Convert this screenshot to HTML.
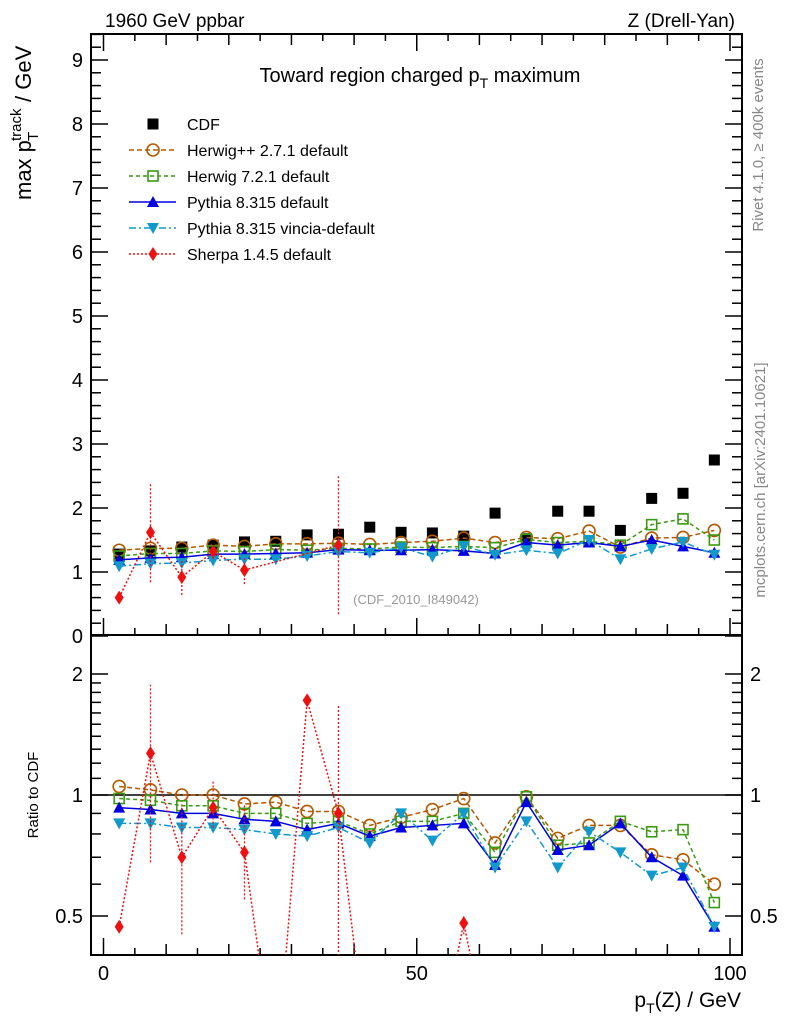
<!DOCTYPE html>
<html><head><meta charset="utf-8"><style>
html,body{margin:0;background:#fff;overflow:hidden;width:786px;height:1024px}
svg{display:block;font-family:"Liberation Sans",sans-serif}
</style></head><body>
<svg id="c" width="786" height="1024" viewBox="0 0 786 1024">
<text x="105" y="27" font-size="19">1960 GeV ppbar</text>
<text x="735" y="27" font-size="19" text-anchor="end">Z (Drell-Yan)</text>
<text x="420" y="82" font-size="20" text-anchor="middle">Toward region charged p<tspan font-size="14" dy="6">T</tspan><tspan dy="-6"> maximum</tspan></text>
<g transform="translate(31,200) rotate(-90)">
<text x="0" y="0" font-size="22">max p</text>
<text x="59" y="-10" font-size="15">track</text>
<text x="59" y="7" font-size="15">T</text>
<text x="98" y="0" font-size="22">/ GeV</text>
</g>
<text transform="translate(38,795) rotate(-90)" font-size="15" text-anchor="middle">Ratio to CDF</text>
<text x="741" y="1007" font-size="21" text-anchor="end">p<tspan font-size="14" dy="6">T</tspan><tspan dy="-6">(Z) / GeV</tspan></text>
<text transform="translate(763,145) rotate(-90)" font-size="15" fill="#888" text-anchor="middle">Rivet 4.1.0, ≥ 400k events</text>
<text transform="translate(765,480) rotate(-90)" font-size="15" fill="#888" text-anchor="middle">mcplots.cern.ch [arXiv:2401.10621]</text>
<text x="416" y="604" font-size="13" fill="#999" text-anchor="middle">(CDF_2010_I849042)</text>
<g id="plot"></g>
</svg>
<script>
const xs=[2.5,7.5,12.5,17.5,22.5,27.5,32.5,37.5,42.5,47.5,52.5,57.5,62.5,67.5,72.5,77.5,82.5,87.5,92.5,97.5];
const cdf=[1.28,1.33,1.39,1.42,1.47,1.48,1.58,1.59,1.70,1.62,1.61,1.56,1.92,1.52,1.95,1.95,1.65,2.15,2.23,2.75];
const herwigpp=[1.34,1.37,1.37,1.42,1.40,1.44,1.44,1.45,1.43,1.46,1.48,1.53,1.46,1.54,1.52,1.64,1.39,1.53,1.54,1.65];
const herwig7=[1.25,1.29,1.29,1.33,1.32,1.35,1.34,1.37,1.36,1.39,1.38,1.40,1.38,1.51,1.46,1.48,1.42,1.74,1.83,1.50];
const pythia=[1.19,1.22,1.23,1.28,1.28,1.29,1.30,1.35,1.34,1.34,1.35,1.33,1.29,1.46,1.42,1.46,1.40,1.50,1.40,1.30];
const vincia=[1.09,1.13,1.14,1.18,1.20,1.20,1.25,1.32,1.30,1.38,1.24,1.40,1.27,1.34,1.29,1.50,1.20,1.36,1.47,1.27];
const sherpaX=[2.5,7.5,12.5,17.5,22.5,37.5];
const sherpa=[0.60,1.62,0.92,1.32,1.03,1.42];
const sherpaErr=[0.05,0.78,0.28,0.12,0.22,1.08];
const rHerwigpp=[1.05,1.03,1.00,1.00,0.95,0.96,0.91,0.91,0.84,0.88,0.92,0.98,0.76,0.99,0.78,0.84,0.84,0.71,0.69,0.60];
const rHerwig7=[0.98,0.97,0.94,0.94,0.90,0.90,0.85,0.86,0.80,0.86,0.86,0.90,0.72,0.99,0.75,0.76,0.86,0.81,0.82,0.54];
const rPythia=[0.93,0.92,0.90,0.90,0.87,0.86,0.82,0.85,0.79,0.83,0.84,0.85,0.67,0.96,0.73,0.75,0.85,0.70,0.63,0.47];
const rVincia=[0.85,0.85,0.83,0.83,0.82,0.80,0.79,0.83,0.76,0.90,0.77,0.90,0.66,0.86,0.66,0.81,0.72,0.63,0.66,0.47];
const rSherpaX=[2.5,7.5,12.5,17.5,22.5,27.5,32.5,37.5,42.5,47.5,52.5,57.5,62.5];
const rSherpa=[0.47,1.27,0.70,0.93,0.72,0.2,1.72,0.90,0.2,0.2,0.2,0.48,0.2];
const rSherpaLo=[0.46,0.68,0.45,0.83,0.55,0.2,1.72,0.2,0.2,0.2,0.2,0.45,0.2];
const rSherpaHi=[0.48,1.88,0.95,1.08,0.95,0.2,1.72,1.67,0.2,0.2,0.2,0.5,0.2];
const yTicks=[0,1,2,3,4,5,6,7,8,9];
const xTickLabels=[0,50,100];
const rTicks=[0.5,1,2];

const L=91,R=742,T=34,M=635,B=955;
const X=v=>103.5+v*6.265;
const Y=v=>636-v*64;
const RY=v=>795-121*Math.log2(v);
const NS='http://www.w3.org/2000/svg';
const g=document.getElementById('plot');
function el(t,a,p){const e=document.createElementNS(NS,t);for(const k in a)e.setAttribute(k,a[k]);(p||g).appendChild(e);return e;}
const clipU=el('clipPath',{id:'cu'});el('rect',{x:L,y:T,width:R-L,height:M-T},clipU);
const clipL=el('clipPath',{id:'cl'});el('rect',{x:L,y:M,width:R-L,height:B-M},clipL);

const fr=el('rect',{x:L,y:T,width:R-L,height:B-T,fill:'none',stroke:'#000','stroke-width':2});

const mid=el('line',{x1:L,x2:R,y1:M,y2:M,stroke:'#000','stroke-width':2});

for(let v=0;v<=9.4;v+=0.2){const y=Y(v);if(y<T)continue;const maj=Math.abs(v-Math.round(v))<0.01;const w=maj?17:10;
 el('line',{x1:L,x2:L+w,y1:y,y2:y,stroke:'#000','stroke-width':1.5});el('line',{x1:R,x2:R-w,y1:y,y2:y,stroke:'#000','stroke-width':1.5});}
yTicks.forEach(v=>{const t=el('text',{x:L-8,y:Y(v)+7,'font-size':20,'text-anchor':'end'});t.textContent=v;
});
for(let v=0;v<=100;v+=5){const x=X(v);const w=v%50==0?17:(v%10==0?11:7);
 [M,B].forEach(b=>el('line',{x1:x,x2:x,y1:b,y2:b-w,stroke:'#000','stroke-width':1.5}));
 el('line',{x1:x,x2:x,y1:T,y2:T+w,stroke:'#000','stroke-width':1.5});}
xTickLabels.forEach(v=>{const t=el('text',{x:X(v),y:980,'font-size':20,'text-anchor':'middle'});t.textContent=v;
});
[0.4,0.5,0.6,0.7,0.8,0.9,1,1.1,1.2,1.3,1.4,1.5,1.6,1.7,1.8,1.9,2].forEach(v=>{const y=RY(v);if(y>B||y<M)return;const maj=rTicks.includes(v);const w=maj?17:10;
 el('line',{x1:L,x2:L+w,y1:y,y2:y,stroke:'#000','stroke-width':1.5});el('line',{x1:R,x2:R-w,y1:y,y2:y,stroke:'#000','stroke-width':1.5});});
rTicks.forEach(v=>{[[L-8,'end'],[R+8,'start']].forEach(([x,a])=>{const t=el('text',{x:x,y:RY(v)+7,'font-size':20,'text-anchor':a});t.textContent=v;
});});
const one=el('line',{x1:L,x2:R,y1:RY(1),y2:RY(1),stroke:'#000','stroke-width':1.5});


function marker(p,type,x,y,col){
 if(type=='sq')el('rect',{x:x-5.5,y:y-5.5,width:11,height:11,fill:col},p);
 if(type=='osq')el('rect',{x:x-5,y:y-5,width:10,height:10,fill:'none',stroke:col,'stroke-width':1.6},p);
 if(type=='oc')el('circle',{cx:x,cy:y,r:6,fill:'none',stroke:col,'stroke-width':1.6},p);
 if(type=='tu')el('path',{d:`M${x-6},${y+5}L${x+6},${y+5}L${x},${y-6}Z`,fill:col},p);
 if(type=='td')el('path',{d:`M${x-6},${y-5}L${x+6},${y-5}L${x},${y+6}Z`,fill:col},p);
 if(type=='di')el('path',{d:`M${x},${y-7}L${x+4.5},${y}L${x},${y+7}L${x-4.5},${y}Z`,fill:col},p);
}
function series(name,xv,vals,fy,type,col,dash,clip){
 const p=el('g',{'clip-path':`url(#${clip})`});
 
 if(dash!==null){const pts=xv.map((x,i)=>X(x)+','+fy(vals[i])).join(' ');
  el('polyline',{points:pts,fill:'none',stroke:col,'stroke-width':1.5,'stroke-dasharray':dash},p);}
 xv.forEach((x,i)=>marker(p,type,X(x),fy(vals[i]),col));
 return p;
}
const BR='#b35900',GR='#3a9a14',BL='#0000e0',CY='#1199cc',RD='#ee1111';
series('cdf-data',xs,cdf,Y,'sq','#000',null,'cu');
series('herwigpp-series',xs,herwigpp,Y,'oc',BR,'5,3','cu');
series('herwig7-series',xs,herwig7,Y,'osq',GR,'4,3','cu');
series('pythia-series',xs,pythia,Y,'tu',BL,'','cu');
series('vincia-series',xs,vincia,Y,'td',CY,'7,3,2,3','cu');
const sp=series('sherpa-series',sherpaX,sherpa,Y,'di',RD,'2,2','cu');
sherpaX.forEach((x,i)=>el('line',{x1:X(x),x2:X(x),y1:Y(sherpa[i]-sherpaErr[i]),y2:Y(sherpa[i]+sherpaErr[i]),stroke:RD,'stroke-width':1.3,'stroke-dasharray':'2,2'},sp));
series('herwigpp-ratio',xs,rHerwigpp,RY,'oc',BR,'5,3','cl');
series('herwig7-ratio',xs,rHerwig7,RY,'osq',GR,'4,3','cl');
series('pythia-ratio',xs,rPythia,RY,'tu',BL,'','cl');
series('vincia-ratio',xs,rVincia,RY,'td',CY,'7,3,2,3','cl');
const sr=series('sherpa-ratio',rSherpaX,rSherpa,RY,'di',RD,'2,2','cl');
rSherpaX.forEach((x,i)=>el('line',{x1:X(x),x2:X(x),y1:RY(rSherpaLo[i]),y2:RY(rSherpaHi[i]),stroke:RD,'stroke-width':1.3,'stroke-dasharray':'2,2'},sr));

const leg=[['CDF','sq','#000',null],['Herwig++ 2.7.1 default','oc',BR,'5,3'],['Herwig 7.2.1 default','osq',GR,'4,3'],
 ['Pythia 8.315 default','tu',BL,''],['Pythia 8.315 vincia-default','td',CY,'7,3,2,3'],['Sherpa 1.4.5 default','di',RD,'2,2']];
leg.forEach((l,i)=>{const y=124+i*26;const p=el('g',{});
 
 if(l[3]!==null)el('line',{x1:129,x2:176,y1:y,y2:y,stroke:l[2],'stroke-width':1.5,'stroke-dasharray':l[3]},p);
 marker(p,l[1],153,y,l[2]);
 const t=el('text',{x:187,y:y+6,'font-size':16},p);t.textContent=l[0];});
</script>
</body></html>
